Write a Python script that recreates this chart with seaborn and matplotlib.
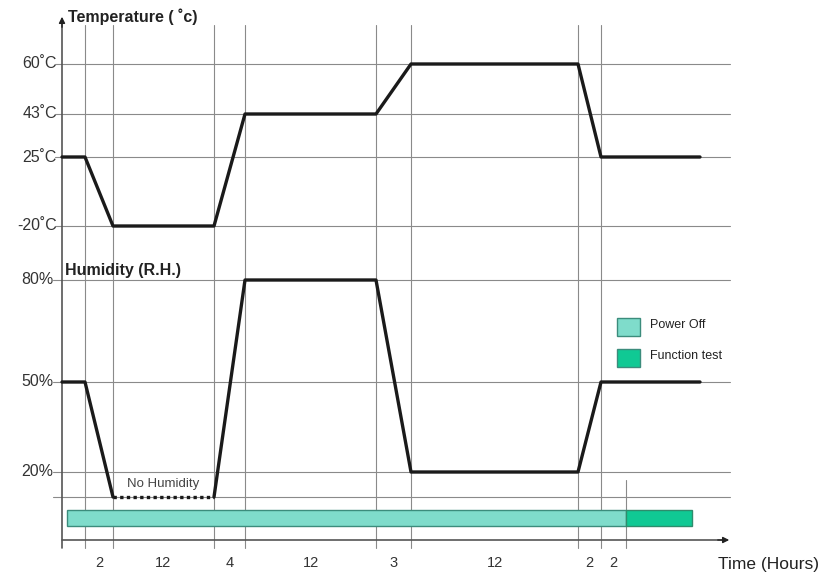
import matplotlib
matplotlib.use("Agg")
import matplotlib.pyplot as plt
import seaborn as sns
import pandas as pd
from matplotlib.patches import Rectangle

sns.set_style("white")
plt.rcParams['font.family'] = ['Liberation Sans', 'DejaVu Sans']

# ---- data ----
durations = ["2", "12", "4", "12", "3", "12", "2", "2"]
temp_labels = ["60˚C", "43˚C", "25˚C", "-20˚C"]
temp_levels = [60, 43, 25, -20]
hum_labels = ["80%", "50%", "20%"]
hum_levels = [80, 50, 20]
temp_profile = [25, 25, -20, -20, 43, 43, 60, 60, 25, 25]
hum_profile = [50, 50, 0, 0, 80, 80, 20, 20, 50, 50]   # 0 = no humidity
phases = ["Power Off", "Function test"]

# ---- schematic layout (pixel space) ----
xb = [62, 85, 113, 214, 245, 376, 411, 578, 601, 700]
seg_edges = [85, 113, 214, 245, 376, 411, 578, 601, 626]
t_pos = {60: 64, 43: 114, 25: 157, -20: 226}
h_pos = {80: 280, 50: 382, 20: 472, 0: 497}
x0, xr, ybase = 62, 730, 540

fig = plt.figure(figsize=(8.25, 5.78), dpi=100)
ax = fig.add_axes([0, 0, 1, 1])
ax.set_xlim(0, 825)
ax.set_ylim(578, 0)
ax.axis("off")

gcol = "#8a8a8a"
# horizontal grid lines
for v in temp_levels:
    ax.plot([55, xr], [t_pos[v]] * 2, color=gcol, lw=0.8, zorder=1)
for v in hum_levels + [0]:
    ax.plot([53, xr], [h_pos[v]] * 2, color=gcol, lw=0.8, zorder=1)
# vertical grid lines
for x in xb[1:-1]:
    ax.plot([x, x], [25, 548], color=gcol, lw=0.8, zorder=1)
ax.plot([626, 626], [480, 548], color=gcol, lw=0.8, zorder=1)

# axes with arrows
ax.plot([x0, x0], [548, 22], color="#555555", lw=1.2, zorder=2)
ax.plot([x0, 724], [ybase, ybase], color="#555555", lw=1.2, zorder=2)
ax.annotate("", xy=(x0, 14), xytext=(x0, 30),
            arrowprops=dict(arrowstyle="-|>", color="#222222", lw=1.0, mutation_scale=9))
ax.annotate("", xy=(732, ybase), xytext=(715, ybase),
            arrowprops=dict(arrowstyle="-|>", color="#222222", lw=1.0, mutation_scale=9))

# temperature profile
df_t = pd.DataFrame({"x": xb, "y": [t_pos[v] for v in temp_profile]})
sns.lineplot(data=df_t, x="x", y="y", sort=False, estimator=None, ax=ax,
             color="#1a1a1a", lw=2.4, zorder=4)

# humidity profile (dotted where no humidity)
hy = [h_pos[v] for v in hum_profile]
df_h1 = pd.DataFrame({"x": xb[:3], "y": hy[:3]})
df_h2 = pd.DataFrame({"x": xb[3:], "y": hy[3:]})
df_h0 = pd.DataFrame({"x": xb[2:4], "y": hy[2:4]})
for d in (df_h1, df_h2):
    sns.lineplot(data=d, x="x", y="y", sort=False, estimator=None, ax=ax,
                 color="#1a1a1a", lw=2.4, zorder=4)
sns.lineplot(data=df_h0, x="x", y="y", sort=False, estimator=None, ax=ax,
             color="#1a1a1a", lw=2.4, ls=(0, (1, 1)), zorder=4)
ax.text((xb[2] + xb[3]) / 2, 484, "No Humidity", ha="center", va="center",
        fontsize=9.5, color="#444444")

# y labels
for lab, v in zip(temp_labels, temp_levels):
    ax.text(57, t_pos[v], lab, ha="right", va="center", fontsize=11.5, color="#333333")
for lab, v in zip(hum_labels, hum_levels):
    ax.text(53, h_pos[v], lab, ha="right", va="center", fontsize=11.5, color="#333333")

ax.text(68, 17, "Temperature ( ˚c)", ha="left", va="center", fontsize=11.5,
        fontweight="bold", color="#222222")
ax.text(65, 271, "Humidity (R.H.)", ha="left", va="center", fontsize=11.5,
        fontweight="bold", color="#222222")

# duration labels
for i, lab in enumerate(durations):
    xm = (seg_edges[i] + seg_edges[i + 1]) / 2
    ax.text(xm, 563, lab, ha="center", va="center", fontsize=10.5, color="#333333")
ax.text(718, 565, "Time (Hours)", ha="left", va="center", fontsize=12.5, color="#222222")

# phase bars
c_off, c_fun = "#7fdccb", "#10c994"
ax.add_patch(Rectangle((67, 510), 626 - 67, 16, facecolor=c_off, edgecolor="#3c8c7c", lw=1, zorder=3))
ax.add_patch(Rectangle((626, 510), 692 - 626, 16, facecolor=c_fun, edgecolor="#2e8c6c", lw=1, zorder=3))

# legend
for j, (lab, c) in enumerate(zip(phases, [c_off, c_fun])):
    yy = 318 + j * 31
    ax.add_patch(Rectangle((617, yy), 23, 18, facecolor=c, edgecolor="#3c8c7c", lw=1, zorder=3))
    ax.text(650, yy + 7, lab, ha="left", va="center", fontsize=9, color="#222222")

fig.savefig("out.png", dpi=100)
